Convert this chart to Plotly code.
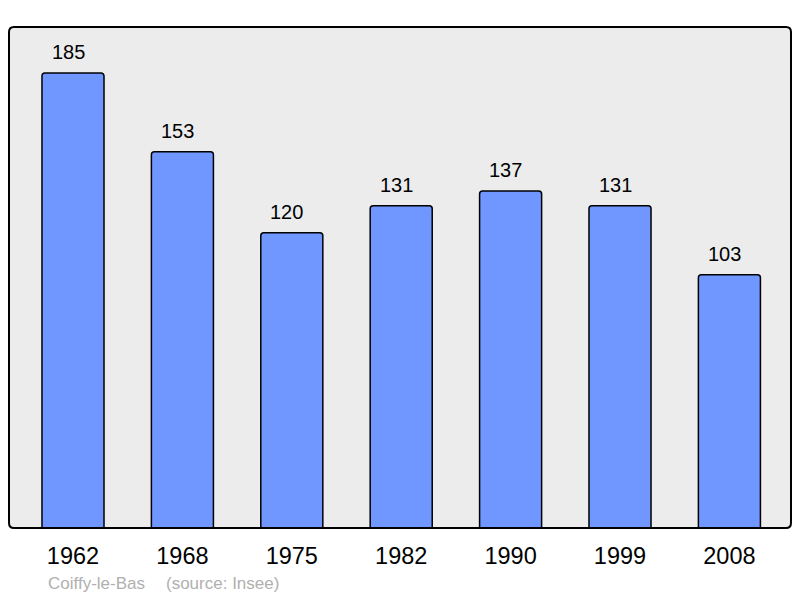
import plotly.graph_objects as go

years = ["1962", "1968", "1975", "1982", "1990", "1999", "2008"]
population = [185, 153, 120, 131, 137, 131, 103]
commune = "Coiffy-le-Bas"
source = "(source: Insee)"

xpos = list(range(len(years)))

W, H = 800, 598
ML, MT, MR, MB = 1, 19, 17, 78
PW, PH = W - ML - MR, H - MT - MB
FONT = "Liberation Sans, Arial, sans-serif"

fig = go.Figure()
fig.add_trace(go.Bar(
    x=xpos, y=population, width=0.567,
    marker=dict(color="#7096FF", line=dict(color="#000000", width=1.5), cornerradius=3),
    hoverinfo="skip",
))

for xi, v in zip(xpos, population):
    fig.add_annotation(x=xi, y=v, text=str(v), showarrow=False, yanchor="bottom",
                       yshift=8, xshift=-5, font=dict(size=20, color="#000000", family=FONT))

for txt, px in ((commune, 49), (source, 167)):
    fig.add_annotation(xref="paper", yref="paper", x=(px - 3 - 9) / PW, y=(528 - 583) / PH,
                       xanchor="left", yanchor="middle", showarrow=False, text=txt,
                       font=dict(size=17, color="#B0B0B0", family=FONT))

# rounded frame
r = 5
rx, ry = r / PW, r / PH
path = (f"M {rx},0 L {1-rx},0 Q 1,0 1,{ry} L 1,{1-ry} Q 1,1 {1-rx},1 "
        f"L {rx},1 Q 0,1 0,{1-ry} L 0,{ry} Q 0,0 {rx},0 Z")
fig.add_shape(type="path", xref="paper", yref="paper", path=path,
              line=dict(color="#000000", width=2), fillcolor="rgba(0,0,0,0)", layer="above")

fig.update_layout(
    width=W, height=H,
    margin=dict(l=ML, r=MR, t=MT, b=MB),
    paper_bgcolor="#FFFFFF", plot_bgcolor="#ECECEC",
    showlegend=False,
    font=dict(family=FONT),
    xaxis=dict(range=[-0.585, 6.563], tickmode="array", tickvals=xpos, ticktext=years,
               showgrid=False, zeroline=False, ticks="", ticklabelstandoff=11,
               tickfont=dict(size=23.5, color="#000000"), fixedrange=True),
    yaxis=dict(range=[0, 203.7], showgrid=False, zeroline=False, showticklabels=False,
               ticks="", fixedrange=True),
)

fig.write_html("out.html")
